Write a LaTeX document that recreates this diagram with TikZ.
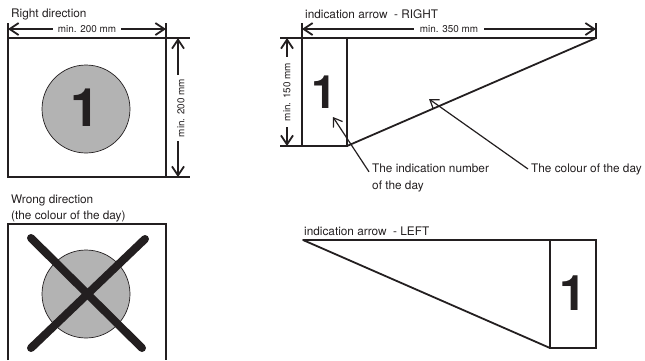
\documentclass[tikz,border=0pt]{standalone}
\usepackage{fontspec}
\setmainfont{TeX Gyre Heros}
\usetikzlibrary{arrows.meta}
\definecolor{inkdark}{HTML}{231F20}
\definecolor{daycolour}{HTML}{B3B3B3}

\begin{document}
\begin{tikzpicture}[x=1pt,y=-1pt,
                      every path/.style={color=inkdark},
                      every node/.style={text=inkdark},
                      frameline/.style={draw,line width=1.2pt},
                      dimline/.style={draw,line width=1.8pt,
                        {Straight Barb[length=9pt,width=12pt]}-{Straight Barb[length=9pt,width=12pt]}},
                      leaderline/.style={draw,line width=1.2pt,-{Straight Barb[length=8pt,width=11pt]}},
                      dimlabel/.style={fill=white,inner ysep=1pt,font=\fontsize{9.9}{11}\selectfont},
                      caption/.style={anchor=west,inner sep=0pt,font=\fontsize{11.8}{16}\selectfont},
                      note/.style={align=left,inner sep=3pt,font=\fontsize{11.8}{17}\selectfont},
                      daydisc/.style={circle,draw,line width=0.7pt,fill=daycolour,minimum size=88pt,inner sep=0pt},
                      bignumber/.style={inner sep=0pt,font=\fontsize{#1}{#1}\selectfont\bfseries},
                      crossline/.style={draw,line width=8pt,line cap=round}]

   \useasboundingbox (0,0) rectangle (645,360);

   % right direction
   \coordinate (rdNW) at (8,38);
   \coordinate (rdNE) at (166,38);
   \coordinate (rdSW) at (8,177);
   \coordinate (rdSE) at (166,177);
   \coordinate (rdTopL) at (8,23);
   \coordinate (rdTopR) at (166,23);
   \coordinate (rdSideT) at (190,38);
   \coordinate (rdSideB) at (190,177);
   \coordinate (rdDimL) at (8,29);
   \coordinate (rdDimR) at (166,29);
   \coordinate (rdDimT) at (178,38);
   \coordinate (rdDimB) at (178,177);

   \node[caption] (rdTitle) at (11,14) {Right direction};
   \node[daydisc] (rdDisc) at (86,109) {};
   \node[bignumber=53] (rdNum) at (85,108) {1};
   \draw[frameline] (rdTopL) -- (rdSW) -- (rdSideB);
   \draw[frameline] (rdTopR) -- (rdSE);
   \draw[frameline] (rdNW) -- (rdSideT);
   \draw[dimline] (rdDimL) -- node[dimlabel,inner xsep=4.5pt] {min. 200 mm} (rdDimR);
   \draw[dimline] (rdDimT) -- node[dimlabel,rotate=90,inner xsep=4pt,inner ysep=5pt,xshift=-0.5pt,yshift=-3pt] (rdDimText) {min. 200 mm} (rdDimB);

   % wrong direction
   \coordinate (wdNW) at (8,224);
   \coordinate (wdNE) at (166,224);
   \coordinate (wdSW) at (8,360);
   \coordinate (wdSE) at (166,360);
   \coordinate (wdCrossA) at (31,238);
   \coordinate (wdCrossB) at (142,348);
   \coordinate (wdCrossC) at (145,239);
   \coordinate (wdCrossD) at (31,348);

   \node[caption] (wdTitle) at (11,200) {Wrong direction};
   \node[caption] (wdTitleTwo) at (11,216) {(the colour of the day)};
   \node[daydisc] (wdDisc) at (86,294) {};
   \draw[frameline] (wdSW) -- (wdNW) -- (wdNE) -- (wdSE);
   \draw[crossline] (wdCrossA) -- (wdCrossB);
   \draw[crossline] (wdCrossC) -- (wdCrossD);

   % indication arrow right
   \coordinate (raNW) at (302,38);
   \coordinate (raSW) at (302,146);
   \coordinate (raInT) at (347,38);
   \coordinate (raInB) at (347,146);
   \coordinate (raTip) at (596,38);
   \coordinate (raExtL) at (280,38);
   \coordinate (raExtB) at (280,146);
   \coordinate (raTopL) at (302,23);
   \coordinate (raTopR) at (596,23);
   \coordinate (raDimL) at (302,29);
   \coordinate (raDimR) at (596,29);
   \coordinate (raDimT) at (287,38);
   \coordinate (raDimB) at (287,146);
   \coordinate (raNumTip) at (333,117);
   \coordinate (raDayTip) at (429,99);

   \node[caption] (raTitle) at (305,14) {indication arrow~ - RIGHT};
   \node[bignumber=46] (raNum) at (324,92) {1};
   \draw[frameline] (raTopL) -- (raSW);
   \draw[frameline] (raExtL) -- (raTip) -- (raTopR);
   \draw[frameline] (raExtB) -- (raInB) -- (raInT);
   \draw[draw,line width=1.8pt,line cap=round] (raInB) -- (raTip);
   \draw[dimline] (raDimL) -- node[dimlabel,inner xsep=6pt] {min. 350 mm} (raDimR);
   \draw[dimline] (raDimT) -- node[dimlabel,rotate=90,inner xsep=5.5pt] {min. 150 mm} (raDimB);

   \node[note,anchor=north west] (raNumNote) at (369,161) {The indication number\\of the day};
   \node[note,anchor=west] (raDayNote) at (528,169) {The colour of the day};
   \draw[leaderline] (raNumNote.174) -- (raNumTip);
   \draw[leaderline] (raDayNote.west) -- (raDayTip);

   % indication arrow left
   \coordinate (laTip) at (303,240);
   \coordinate (laNE) at (596,240);
   \coordinate (laSE) at (596,348);
   \coordinate (laInT) at (550,240);
   \coordinate (laInB) at (550,348);

   \node[caption] (laTitle) at (304,231) {indication arrow~ - LEFT};
   \node[bignumber=49] (laNum) at (573,293) {1};
   \draw[frameline] (laTip) -- (laNE) -- (laSE) -- (laInB) -- (laInT);
   \draw[draw,line width=1.8pt,line cap=round] (laTip) -- (laInB);
\end{tikzpicture}
\end{document}
